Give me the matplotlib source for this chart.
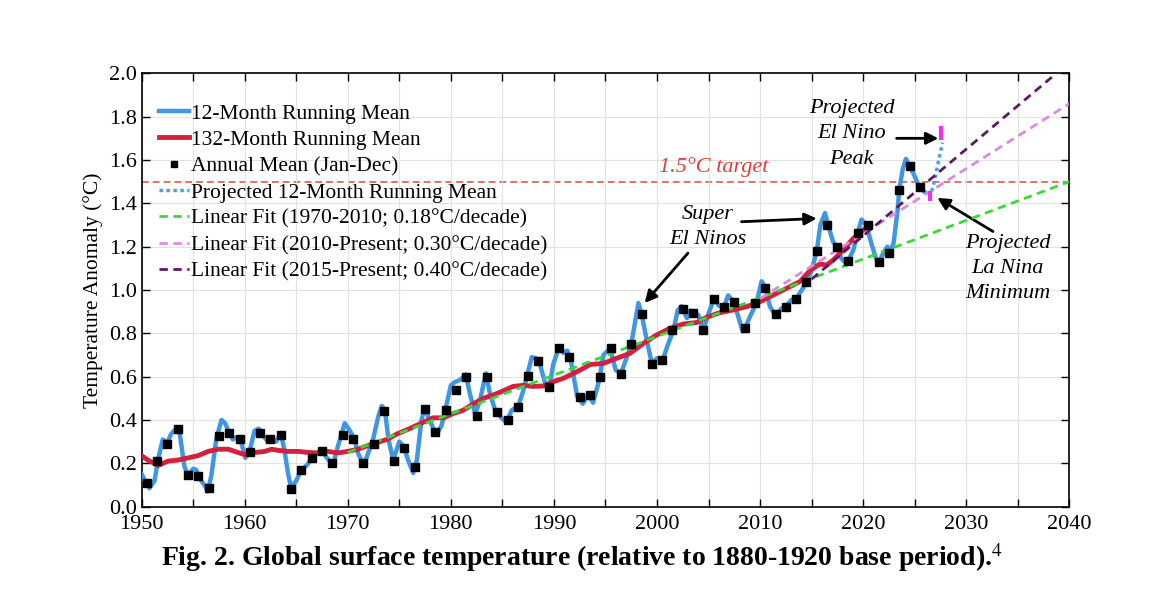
import numpy as np
import matplotlib
matplotlib.use("Agg")
import matplotlib.pyplot as plt
from matplotlib.ticker import MultipleLocator

plt.rcParams['font.family'] = ['Liberation Serif', 'DejaVu Serif']
plt.rcParams['mathtext.fontset'] = 'stix'

# Annual means (Jan-Dec), relative to 1880-1920, plotted at mid-year
annual_years = np.arange(1950, 2026)
annual_mean = [
    0.11, 0.21, 0.29, 0.36, 0.145, 0.14, 0.085, 0.325, 0.34, 0.31,
    0.25, 0.34, 0.31, 0.33, 0.08, 0.17, 0.225, 0.255, 0.20, 0.33,
    0.31, 0.20, 0.29, 0.44, 0.21, 0.27, 0.185, 0.45, 0.345, 0.445,
    0.54, 0.60, 0.42, 0.60, 0.435, 0.40, 0.46, 0.605, 0.67, 0.552,
    0.73, 0.69, 0.505, 0.515, 0.60, 0.73, 0.61, 0.75, 0.89, 0.66,
    0.678, 0.815, 0.91, 0.895, 0.815, 0.96, 0.92, 0.945, 0.825, 0.94,
    1.01, 0.89, 0.92, 0.96, 1.035, 1.18, 1.30, 1.20, 1.135, 1.265,
    1.30, 1.13, 1.17, 1.46, 1.57, 1.475,
]

# 12-month running mean
rm12_years = [
    1950.0, 1950.3, 1950.75, 1951.25, 1951.6, 1952.05, 1952.5, 1952.85, 1953.35, 1953.7,
    1954.15, 1954.5, 1955.0, 1955.3, 1955.6, 1956.1, 1956.4, 1956.75, 1957.25, 1957.75,
    1958.1, 1958.5, 1958.85, 1959.2, 1959.65, 1960.05, 1960.5, 1960.95, 1961.35, 1961.75,
    1962.25, 1962.6, 1963.05, 1963.5, 1963.85, 1964.2, 1964.5, 1965.0, 1965.5, 1966.0,
    1966.5, 1966.95, 1967.45, 1967.9, 1968.55, 1969.05, 1969.7, 1970.15, 1970.6, 1971.05,
    1971.6, 1971.85, 1972.45, 1972.95, 1973.3, 1973.6, 1973.95, 1974.4, 1975.0, 1975.4,
    1975.85, 1976.35, 1976.7, 1977.15, 1977.5, 1977.8, 1978.3, 1978.7, 1979.1, 1979.5,
    1980.0, 1980.4, 1980.9, 1981.45, 1981.85, 1982.35, 1982.8, 1983.4, 1983.8, 1984.3,
    1984.9, 1985.4, 1985.9, 1986.55, 1987.05, 1987.85, 1988.3, 1988.65, 1989.15, 1989.55,
    1989.95, 1990.5, 1990.9, 1991.3, 1991.7, 1992.25, 1992.8, 1993.3, 1993.8, 1994.4,
    1994.8, 1995.45, 1996.0, 1996.5, 1997.0, 1997.5, 1998.2, 1998.5, 1999.0, 1999.5,
    2000.0, 2000.55, 2001.0, 2001.6, 2002.0, 2002.4, 2002.9, 2003.2, 2003.5, 2004.0,
    2004.5, 2005.1, 2005.55, 2005.95, 2006.45, 2006.9, 2007.45, 2007.9, 2008.3, 2008.55,
    2009.0, 2009.65, 2010.15, 2010.55, 2010.95, 2011.45, 2012.1, 2012.6, 2013.05, 2013.5,
    2014.05, 2014.5, 2015.0, 2015.5, 2015.85, 2016.3, 2016.6, 2017.1, 2017.5, 2017.9,
    2018.4, 2019.05, 2019.5, 2019.85, 2020.3, 2020.8, 2021.25, 2021.5, 2021.95, 2022.35,
    2022.6, 2022.95, 2023.35, 2023.5, 2023.85, 2024.15, 2024.55, 2025.05, 2025.45, 2025.9,
]
rm12_vals = [
    0.15, 0.12, 0.085, 0.12, 0.22, 0.31, 0.295, 0.335, 0.36, 0.335,
    0.185, 0.145, 0.175, 0.17, 0.13, 0.10, 0.07, 0.14, 0.315, 0.40,
    0.385, 0.34, 0.31, 0.32, 0.30, 0.225, 0.26, 0.35, 0.36, 0.33,
    0.30, 0.31, 0.30, 0.34, 0.26, 0.155, 0.085, 0.12, 0.17, 0.19,
    0.22, 0.245, 0.26, 0.23, 0.19, 0.28, 0.385, 0.355, 0.315, 0.24,
    0.19, 0.23, 0.31, 0.415, 0.465, 0.445, 0.31, 0.215, 0.30, 0.28,
    0.215, 0.155, 0.215, 0.40, 0.46, 0.415, 0.36, 0.34, 0.375, 0.455,
    0.56, 0.575, 0.585, 0.61, 0.52, 0.43, 0.485, 0.615, 0.52, 0.445,
    0.41, 0.39, 0.445, 0.465, 0.54, 0.69, 0.685, 0.655, 0.57, 0.55,
    0.66, 0.735, 0.71, 0.72, 0.66, 0.51, 0.475, 0.515, 0.48, 0.585,
    0.70, 0.73, 0.63, 0.615, 0.68, 0.75, 0.94, 0.89, 0.77, 0.66,
    0.685, 0.675, 0.74, 0.815, 0.905, 0.925, 0.87, 0.905, 0.90, 0.885,
    0.815, 0.905, 0.96, 0.93, 0.915, 0.975, 0.945, 0.875, 0.81, 0.825,
    0.875, 0.94, 1.04, 1.01, 0.925, 0.885, 0.915, 0.93, 0.955, 0.96,
    1.00, 1.035, 1.09, 1.18, 1.30, 1.355, 1.30, 1.22, 1.20, 1.145,
    1.12, 1.185, 1.27, 1.325, 1.30, 1.215, 1.145, 1.125, 1.17, 1.20,
    1.175, 1.215, 1.37, 1.46, 1.56, 1.605, 1.57, 1.52, 1.475, 1.455,
]

# 132-month running mean
rm132_years = [
    1950.0, 1950.6, 1951.6, 1952.55, 1953.5, 1954.5, 1955.45, 1956.45, 1957.4, 1958.4,
    1959.35, 1960.0, 1961.0, 1961.95, 1962.6, 1963.2, 1964.2, 1965.2, 1966.15, 1967.1,
    1968.05, 1969.05, 1970.0, 1971.0, 1972.0, 1972.8, 1973.8, 1974.75, 1976.0, 1977.35,
    1978.3, 1979.3, 1980.25, 1981.2, 1982.2, 1983.15, 1984.1, 1985.1, 1986.05, 1987.0,
    1988.0, 1989.0, 1989.95, 1990.9, 1991.9, 1992.85, 1993.5, 1994.8, 1996.1, 1997.4,
    1998.7, 1999.95, 2001.25, 2002.55, 2003.85, 2004.8, 2006.1, 2007.4, 2008.7, 2010.0,
    2011.3, 2012.6, 2013.9, 2014.85, 2015.8, 2016.45, 2017.1, 2018.05, 2019.05, 2020.0,
    2020.7,
]
rm132_vals = [
    0.235, 0.215, 0.19, 0.21, 0.215, 0.225, 0.235, 0.255, 0.265, 0.265,
    0.25, 0.24, 0.25, 0.255, 0.265, 0.26, 0.255, 0.255, 0.25, 0.248,
    0.255, 0.248, 0.255, 0.265, 0.283, 0.295, 0.31, 0.335, 0.36, 0.39,
    0.41, 0.41, 0.43, 0.445, 0.475, 0.50, 0.515, 0.535, 0.555, 0.56,
    0.555, 0.557, 0.577, 0.592, 0.615, 0.638, 0.656, 0.661, 0.685, 0.708,
    0.754, 0.792, 0.823, 0.843, 0.85, 0.874, 0.895, 0.908, 0.923, 0.946,
    0.977, 1.008, 1.04, 1.09, 1.12, 1.115, 1.138, 1.184, 1.238, 1.277,
    1.30,
]

# projected 12-month running mean
proj_years = [2025.9, 2026.5, 2026.85, 2027.25, 2027.7]
proj_vals = [1.455, 1.43, 1.49, 1.58, 1.68]

# projected ranges (magenta bars)
lanina_year, lanina_range = 2026.5, (1.41, 1.455)
elnino_year, elnino_range = 2027.6, (1.69, 1.755)

# linear fits (end points)
fit_7010_years, fit_7010_vals = [1970, 2040], [0.25, 1.50]
fit_10_years, fit_10_vals = [2010, 2040], [0.96, 1.86]
fit_15_years, fit_15_vals = [2015, 2040], [1.05, 2.05]

target = 1.5

fig = plt.figure(figsize=(11.63, 6.01), dpi=100)
ax = fig.add_axes([0.1218, 0.157, 0.7976, 0.721])

ax.axhline(target, color='#e85050', lw=1.2, ls=(0, (4, 2.5)), zorder=1)

ax.plot(rm12_years, rm12_vals, color='#3d97e3', lw=3.2, zorder=3, label='12-Month Running Mean')
ax.plot(rm132_years, rm132_vals, color='#d3203f', lw=3.5, zorder=4, label='132-Month Running Mean')
ax.plot(annual_years + 0.5, annual_mean, ls='none', marker='s', ms=6, color='black', zorder=6,
        label='Annual Mean (Jan-Dec)')
ax.plot(proj_years, proj_vals, color='#4a9ee8', lw=2.5, ls=(0, (1, 1)), zorder=3,
        label='Projected 12-Month Running Mean')
ax.plot(fit_7010_years, fit_7010_vals, color='#33dd33', lw=2, ls=(0, (3, 2)), zorder=5,
        label='Linear Fit (1970-2010; 0.18°C/decade)')
ax.plot(fit_10_years, fit_10_vals, color='#dc8ae0', lw=2, ls=(0, (3, 2)), zorder=5,
        label='Linear Fit (2010-Present; 0.30°C/decade)')
ax.plot(fit_15_years, fit_15_vals, color='#5c1a62', lw=2, ls=(0, (3, 2)), zorder=5,
        label='Linear Fit (2015-Present; 0.40°C/decade)')

ax.vlines([lanina_year], lanina_range[0], lanina_range[1], color='#ee33ee', lw=3, zorder=7)
ax.vlines([elnino_year], elnino_range[0], elnino_range[1], color='#ee33ee', lw=3, zorder=7)

ax.set_xlim(1950, 2040)
ax.set_ylim(0, 2.0)
ax.xaxis.set_major_locator(MultipleLocator(10))
ax.xaxis.set_minor_locator(MultipleLocator(5))
ax.yaxis.set_major_locator(MultipleLocator(0.2))
ax.yaxis.set_major_formatter(plt.FuncFormatter(lambda v, p: f'{v:.1f}'))
ax.grid(True, which='both', color='#e2e2e2', lw=0.8, zorder=0)
ax.tick_params(which='both', direction='in', top=True, right=True, length=6, width=1,
               labelsize=16)
ax.tick_params(axis='x', pad=6)
for s in ax.spines.values():
    s.set_linewidth(1.2)

ax.set_ylabel('Temperature Anomaly (°C)', fontsize=15.5, labelpad=4)

leg = ax.legend(loc='upper left', bbox_to_anchor=(0.009, 0.95), frameon=False, fontsize=15.5,
                handlelength=1.4, handletextpad=0.1, labelspacing=0.29, borderaxespad=0.0,
                markerscale=0.8)

# annotations
txt = dict(fontsize=16, style='italic', ha='center', va='center', linespacing=1.45)
arr = dict(arrowstyle='-|>', color='black', lw=2, mutation_scale=18, shrinkA=0, shrinkB=0)

ax.text(2005.5, 1.568, '1.5°C target', color='#e03c3c', **txt)

ax.text(2004.9, 1.29, 'Super\nEl Ninos', **txt)
ax.annotate('', xy=(2015.5, 1.33), xytext=(2008.2, 1.315), arrowprops=arr)
ax.annotate('', xy=(1998.8, 0.94), xytext=(2003.0, 1.17), arrowprops=arr)

ax.text(2018.9, 1.72, 'Projected\nEl Nino\nPeak', **txt)
ax.annotate('', xy=(2027.3, 1.70), xytext=(2023.25, 1.70), arrowprops=arr)

ax.text(2034.0, 1.10, 'Projected\nLa Nina\nMinimum', **txt)
ax.annotate('', xy=(2027.2, 1.425), xytext=(2032.6, 1.27), arrowprops=arr)

fig.text(0.5, 0.072, 'Fig. 2. Global surface temperature (relative to 1880-1920 base period).$^{4}$',
         ha='center', va='center', fontsize=20, fontweight='bold')

fig.savefig('out.png', dpi=100)
